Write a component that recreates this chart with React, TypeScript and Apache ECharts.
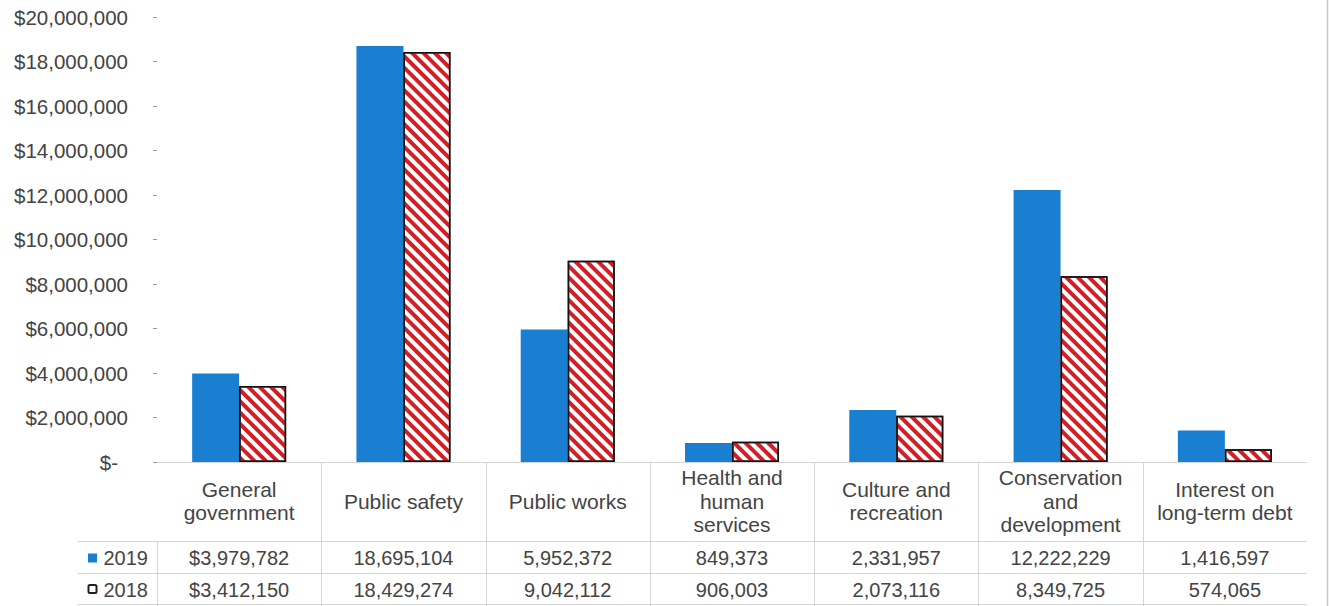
import React, { useEffect, useRef } from "react";
import * as echarts from "echarts";

const categories = [
  "General\ngovernment",
  "Public safety",
  "Public works",
  "Health and\nhuman\nservices",
  "Culture and\nrecreation",
  "Conservation\nand\ndevelopment",
  "Interest on\nlong-term debt",
];
const seriesNames = ["2019", "2018"];
const values2019 = [3979782, 18695104, 5952372, 849373, 2331957, 12222229, 1416597];
const values2018 = [3412150, 18429274, 9042112, 906003, 2073116, 8349725, 574065];
const yMin = 0;
const yMax = 20000000;
const yInterval = 2000000;

const W = 1329;
const H = 606;
const GRID_LEFT = 157;
const GRID_RIGHT_X = 1307;
const GRID_TOP = 17;
const AXIS_Y = 462;
const ROW1_LINE = 541;
const ROW2_LINE = 573;
const TABLE_BOTTOM = 604;

const BLUE = "#1b7fd1";
const RED = "#d21f26";
const TEXT = "#444444";
const LINE = "#d4d4d4";
const FONT = "'Liberation Sans', Arial, sans-serif";

const fmt = (v: number) => v.toLocaleString("en-US");
const tableRow = (vals: number[]) => vals.map((v, i) => (i === 0 ? "$" + fmt(v) : fmt(v)));

export default function App() {
  const ref = useRef<HTMLDivElement>(null);
  useEffect(() => {
    if (!ref.current) return;
    const chart = echarts.init(ref.current, null, { renderer: "svg" });
    const n = categories.length;
    const colW = (GRID_RIGHT_X - GRID_LEFT) / n;
    const graphics: any[] = [];
    [ROW1_LINE, ROW2_LINE, TABLE_BOTTOM].forEach((y) => {
      graphics.push({
        type: "line",
        shape: { x1: 78, y1: y + 0.5, x2: GRID_RIGHT_X, y2: y + 0.5 },
        style: { stroke: LINE, lineWidth: 1 },
        silent: true,
      });
    });
    for (let i = 0; i < n; i++) {
      const x = Math.round(GRID_LEFT + i * colW) + 0.5;
      graphics.push({
        type: "line",
        shape: { x1: x, y1: i === 0 ? ROW1_LINE : AXIS_Y, x2: x, y2: H },
        style: { stroke: LINE, lineWidth: 1 },
        silent: true,
      });
    }
    graphics.push({
      type: "line",
      shape: { x1: W - 1.5, y1: 0, x2: W - 1.5, y2: H },
      style: { stroke: "#c8c8c8", lineWidth: 1.5 },
      silent: true,
    });
    const rowCenters = [(ROW1_LINE + ROW2_LINE) / 2 + 1, (ROW2_LINE + TABLE_BOTTOM) / 2 + 1];
    graphics.push({
      type: "rect",
      shape: { x: 88, y: rowCenters[0] - 4.5, width: 9, height: 9 },
      style: { fill: BLUE },
      silent: true,
    });
    graphics.push({
      type: "rect",
      shape: { x: 88.5, y: rowCenters[1] - 4.5, width: 8, height: 8, r: 1.5 },
      style: { fill: "#fff", stroke: "#2a1a1a", lineWidth: 2 },
      silent: true,
    });
    seriesNames.forEach((name, i) => {
      graphics.push({
        type: "text",
        x: 148,
        y: rowCenters[i],
        style: {
          text: name,
          fill: TEXT,
          font: `20px ${FONT}`,
          align: "right",
          verticalAlign: "middle",
        },
        silent: true,
      });
    });

    const tableAxis = (data: string[], offset: number) => ({
      type: "category",
      data,
      gridIndex: 0,
      position: "bottom",
      offset,
      axisLine: { show: false },
      axisTick: { show: false },
      axisLabel: {
        interval: 0,
        margin: 8,
        verticalAlign: "middle",
        color: TEXT,
        fontSize: 20,
        fontFamily: FONT,
      },
    });

    chart.setOption({
      animation: false,
      backgroundColor: "#ffffff",
      grid: {
        left: GRID_LEFT,
        right: W - GRID_RIGHT_X,
        top: GRID_TOP,
        bottom: H - AXIS_Y,
        containLabel: false,
      },
      xAxis: [
        {
          type: "category",
          data: categories,
          axisLine: { show: true, lineStyle: { color: LINE, width: 1 } },
          axisTick: { show: false },
          axisLabel: {
            interval: 0,
            margin: 39,
            verticalAlign: "middle",
            color: TEXT,
            fontSize: 21,
            lineHeight: 23.5,
            fontFamily: FONT,
            align: "center",
          },
        },
        tableAxis(tableRow(values2019), rowCenters[0] - AXIS_Y - 8),
        tableAxis(tableRow(values2018), rowCenters[1] - AXIS_Y - 8),
      ],
      yAxis: {
        type: "value",
        min: yMin,
        max: yMax,
        interval: yInterval,
        splitLine: { show: false },
        axisLine: { show: false },
        axisTick: { show: true, length: 4, lineStyle: { color: "#9a9a9a" } },
        axisLabel: {
          margin: 29,
          color: TEXT,
          fontSize: 20.5,
          fontFamily: FONT,
          formatter: (v: number) => (v === 0 ? "{z|$-}" : "$" + fmt(v)),
          rich: {
            z: { color: TEXT, fontSize: 20.5, fontFamily: FONT, padding: [0, 10, 0, 0] },
          },
        },
      },
      series: [
        {
          name: seriesNames[0],
          type: "bar",
          data: values2019,
          barWidth: 47,
          barGap: "0%",
          itemStyle: { color: BLUE },
        },
        {
          name: seriesNames[1],
          type: "bar",
          data: values2018,
          barWidth: 47,
          barGap: "0%",
          itemStyle: {
            color: "#ffffff",
            borderColor: "#111111",
            borderWidth: 1.5,
            decal: {
              symbol: "rect",
              symbolSize: 1,
              color: RED,
              dashArrayX: [1, 0],
              dashArrayY: [3.5, 3.5],
              rotation: Math.PI / 4,
            },
          },
        },
      ],
      graphic: graphics,
    });
    return () => chart.dispose();
  }, []);
  return (
    <div
      ref={ref}
      style={{ position: "absolute", left: 0, top: 0, width: W, height: H, background: "#fff" }}
    />
  );
}
